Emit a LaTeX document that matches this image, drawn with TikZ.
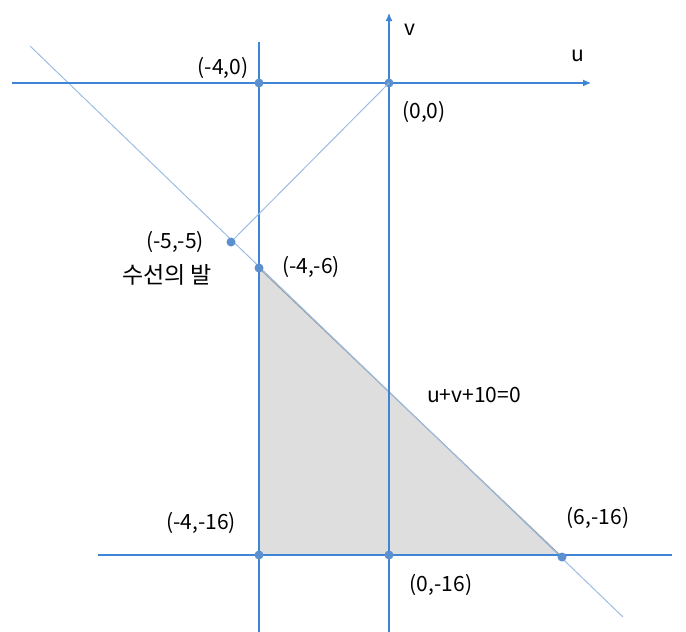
\documentclass[tikz,border=0pt]{standalone}
\usepackage{fontspec}
\setmainfont{Noto Sans CJK KR}
\usetikzlibrary{arrows.meta}
\definecolor{axisblue}{HTML}{3F85D6}
\definecolor{diagblue}{HTML}{9DBDE3}
\definecolor{dotblue}{HTML}{5B8FD0}
\definecolor{trifill}{HTML}{DEDEDE}
\definecolor{triedge}{HTML}{9A9A9A}
\tikzset{
  axis/.style={draw=axisblue, line width=1.1pt},
  guide/.style={draw=diagblue, line width=1pt},
  pt/.style={circle, fill=dotblue, inner sep=0pt, minimum size=9pt},
  lbl/.style={font=\fontsize{21}{25}\selectfont, text=black, inner sep=0pt},
}
\begin{document}
\begin{tikzpicture}[x=1pt,y=-1pt]
\useasboundingbox (0,0) rectangle (686,632);
% triangle
\fill[trifill] (259,268) -- (259,555) -- (561,556) -- cycle;
\draw[triedge, line width=1pt] (259,268) -- (561,556);
% coordinates
\coordinate (ul) at (12,83);
\coordinate (ur) at (591,83);
\coordinate (vb) at (389,632);
\coordinate (vt) at (389,13);
\coordinate (mt) at (259,42);
\coordinate (mb) at (259,632);
\coordinate (hl) at (98,555);
\coordinate (hr) at (672,555);
\coordinate (dl) at (30,46);
\coordinate (dr) at (623,617);
% lines
\draw[guide] (dl) -- (dr);
\draw[axis, -{Latex[length=8pt,width=7pt]}] (ul) -- (ur);
\draw[axis, -{Latex[length=8pt,width=7pt]}] (vb) -- (vt);
\draw[axis] (mt) -- (mb);
\draw[axis, line width=1.6pt] (259,268) -- (259,555);
\draw[axis] (hl) -- (hr);
% points
\node[pt] (p40) at (259,83) {};
\node[pt] (p00) at (389,83) {};
\node[pt] (p55) at (231,242) {};
\node[pt] (p46) at (259,268) {};
\node[pt] (p416) at (259,555) {};
\node[pt] (p016) at (389,555) {};
\node[pt] (p616) at (562,557) {};
\draw[guide] (p00.center) -- (p55);
% labels
\node[lbl] (lv) at (410,30) {v};
\node[lbl] (lu) at (578,56) {u};
\node[lbl] (l40) at (223,68) {(-4,0)};
\node[lbl] (l00) at (424,112) {(0,0)};
\node[lbl] (l55) at (175,242) {(-5,-5)};
\node[lbl, font=\fontsize{23}{27}\selectfont] (lfoot) at (167,275) {수선의 발};
\node[lbl] (l46) at (311,267) {(-4,-6)};
\node[lbl] (leq) at (474,395) {u+v+10=0};
\node[lbl] (l416) at (201,523) {(-4,-16)};
\node[lbl] (l616) at (598,518) {(6,-16)};
\node[lbl] (l016) at (441,585) {(0,-16)};
\end{tikzpicture}
\end{document}
